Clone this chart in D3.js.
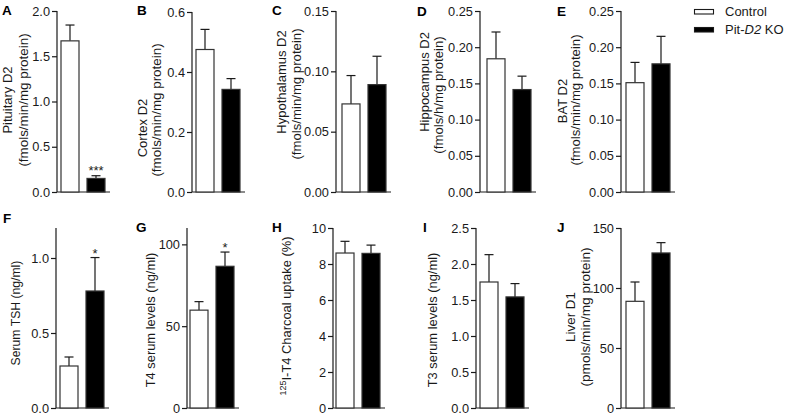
<!DOCTYPE html>
<html>
<head>
<meta charset="utf-8">
<script src="https://cdn.jsdelivr.net/npm/d3@7"></script>
<style>
  html, body { margin: 0; padding: 0; background: #fff; }
  svg { display: block; font-family: "Liberation Sans", Arial, sans-serif; }
</style>
</head>
<body>
<svg id="chart" width="791" height="417"></svg>
<script>
// ---------- data ----------
const panelLetters = ["A", "B", "C", "D", "E", "F", "G", "H", "I", "J"];
const groups = ["Control", "Pit-D2 KO"];
const controlMean = [1.67, 0.475, 0.073, 0.184, 0.151, 0.28, 59.8, 8.61, 1.75, 88.9];
const controlErr  = [0.175, 0.067, 0.0235, 0.037, 0.028, 0.06, 5.2, 0.65, 0.38, 16.1];
const koMean      = [0.15, 0.342, 0.089, 0.1415, 0.177, 0.78, 86.6, 8.59, 1.543, 129.2];
const koErr       = [0.03, 0.036, 0.0235, 0.0185, 0.038, 0.223, 8.7, 0.46, 0.185, 8.6];
const yMax        = [2.0, 0.6, 0.15, 0.25, 0.25, 1.2, 110, 10, 2.5, 150];
const yTicks = [
  [0, 0.5, 1.0, 1.5, 2.0],
  [0, 0.2, 0.4, 0.6],
  [0, 0.05, 0.10, 0.15],
  [0, 0.05, 0.10, 0.15, 0.20, 0.25],
  [0, 0.05, 0.10, 0.15, 0.20, 0.25],
  [0, 0.5, 1.0],
  [0, 50, 100],
  [0, 2, 4, 6, 8, 10],
  [0, 0.5, 1.0, 1.5, 2.0, 2.5],
  [0, 50, 100, 150]
];
const tickFormats = [".1f", ".1f", ".2f", ".2f", ".2f", ".1f", "d", "d", ".1f", "d"];
const significance = ["***", "", "", "", "", "*", "*", "", "", ""];
const titleLine1 = ["Pituitary D2", "Cortex D2", "Hypothalamus D2", "Hippocampus D2", "BAT D2",
  "Serum TSH (ng/ml)", "T4 serum levels (ng/ml)", "I-T4 Charcoal uptake (%)", "T3 serum levels (ng/ml)", "Liver D1"];
const titleLine2 = ["(fmols/min/mg protein)", "(fmols/min/mg protein)", "(fmols/min/mg protein)",
  "(fmols/h/mg protein)", "(fmols/min/mg protein)", "", "", "", "", "(pmols/min/mg protein)"];
const titleSuper = ["", "", "", "", "", "", "", "125", "", ""];

// ---------- layout (positions / styles) ----------
const layout = [
  {ax: 57,  off: 4, top: 11,  bot: 192, lbl: [2, 15],    t1: [12, 100, 13],  t2: [28, 100, 13.4]},
  {ax: 192, off: 4, top: 12,  bot: 192, lbl: [137, 15],  t1: [147, 128, 13], t2: [161, 110, 13.4]},
  {ax: 336, off: 6, top: 11,  bot: 192, lbl: [272, 15],  t1: [286, 82, 13],  t2: [301, 94, 13.2]},
  {ax: 480, off: 7, top: 11,  bot: 192, lbl: [417, 16],  t1: [429, 82, 13],  t2: [443, 95, 13.2]},
  {ax: 621, off: 5, top: 11,  bot: 192, lbl: [557, 16],  t1: [567, 101, 13], t2: [580, 100, 13.2]},
  {ax: 56,  off: 4, top: 228, bot: 408, lbl: [3, 223],   t1: [20, 313, 12.2]},
  {ax: 187, off: 3, top: 228, bot: 408, lbl: [136, 232], t1: [155, 320, 12.9]},
  {ax: 333, off: 3, top: 228, bot: 408, lbl: [272, 232], t1: [291, 316, 12.9]},
  {ax: 476, off: 4, top: 228, bot: 408, lbl: [423, 232], t1: [437, 320, 12.9]},
  {ax: 621, off: 5, top: 228, bot: 408, lbl: [557, 232], t1: [575, 317, 13.4], t2: [590, 317, 13.6]}
];
const ink = "#1a1a1a";
const barW = 18, barStep = 26;

const svg = d3.select("#chart");

panelLetters.forEach((letter, i) => {
  const L = layout[i];
  const g = svg.append("g");

  const y = d3.scaleLinear().domain([0, yMax[i]]).range([L.bot, L.top]);
  const x = d3.scaleBand().domain(groups)
    .range([L.ax + L.off, L.ax + L.off + barStep + barW])
    .paddingInner((barStep - barW) / barStep).paddingOuter(0);

  // y axis
  const yAxis = d3.axisLeft(y).tickValues(yTicks[i]).tickFormat(d3.format(tickFormats[i]))
    .tickSize(5).tickPadding(2).tickSizeOuter(0);
  const ag = g.append("g").attr("transform", `translate(${L.ax},0)`).call(yAxis);
  ag.select(".domain").attr("stroke", ink).attr("stroke-width", 1.2)
    .attr("d", `M0,${y(yMax[i])}V${y(0)}`);
  ag.selectAll(".tick line").attr("stroke", ink).attr("stroke-width", 1.2);
  ag.selectAll(".tick text").attr("fill", ink).style("font-size", "12.8px")
    .style("font-family", "'Liberation Sans', Arial, sans-serif");

  // baseline
  g.append("line").attr("x1", L.ax).attr("x2", L.ax + L.off + barStep + barW + 5)
    .attr("y1", y(0)).attr("y2", y(0)).attr("stroke", ink).attr("stroke-width", 1.2);

  const rows = [
    {grp: groups[0], m: controlMean[i], e: controlErr[i], fill: "#fff"},
    {grp: groups[1], m: koMean[i], e: koErr[i], fill: "#000"}
  ];

  // error bars (upward only)
  rows.forEach(r => {
    const cx = x(r.grp) + x.bandwidth() / 2;
    g.append("line").attr("x1", cx).attr("x2", cx)
      .attr("y1", y(r.m)).attr("y2", y(r.m + r.e)).attr("stroke", ink).attr("stroke-width", 1.2);
    g.append("line").attr("x1", cx - 4.5).attr("x2", cx + 4.5)
      .attr("y1", y(r.m + r.e)).attr("y2", y(r.m + r.e)).attr("stroke", ink).attr("stroke-width", 1.2);
  });

  // bars
  g.selectAll("rect.bar").data(rows).join("rect").attr("class", "bar")
    .attr("x", d => x(d.grp)).attr("width", x.bandwidth())
    .attr("y", d => y(d.m)).attr("height", d => y(0) - y(d.m))
    .attr("fill", d => d.fill).attr("stroke", "#333").attr("stroke-width", 1.2);

  // significance
  if (significance[i]) {
    g.append("text").attr("x", x(groups[1]) + x.bandwidth() / 2)
      .attr("y", y(koMean[i] + koErr[i]) + (i === 0 ? -1 : 0))
      .attr("text-anchor", "middle").style("font-size", "13px").attr("fill", ink)
      .text(significance[i]);
  }

  // panel letter
  g.append("text").attr("x", L.lbl[0]).attr("y", L.lbl[1])
    .style("font-size", "13.5px").style("font-weight", "bold").attr("fill", "#000").text(letter);

  // y titles
  const t1 = g.append("text")
    .attr("transform", `translate(${L.t1[0]},${L.t1[1]}) rotate(-90)`)
    .attr("text-anchor", "middle").style("font-size", L.t1[2] + "px").attr("fill", ink);
  if (titleSuper[i]) {
    t1.append("tspan").style("font-size", "9px").attr("dy", "-5").text(titleSuper[i]);
    t1.append("tspan").attr("dy", "5").text(titleLine1[i]);
  } else {
    t1.text(titleLine1[i]);
  }
  if (titleLine2[i] && L.t2) {
    g.append("text")
      .attr("transform", `translate(${L.t2[0]},${L.t2[1]}) rotate(-90)`)
      .attr("text-anchor", "middle").style("font-size", L.t2[2] + "px").attr("fill", ink)
      .text(titleLine2[i]);
  }
});

// legend
const legend = svg.append("g");
const legendFill = ["#fff", "#000"];
groups.forEach((grp, k) => {
  const ly = [9.5, 27.5][k];
  legend.append("rect").attr("x", 694.5).attr("y", ly).attr("width", 19).attr("height", 4.5)
    .attr("fill", legendFill[k]).attr("stroke", ink).attr("stroke-width", 1.1);
  const t = legend.append("text").attr("x", 725).attr("y", [15.5, 34][k])
    .style("font-size", "13px").attr("fill", ink);
  if (k === 0) {
    t.text(grp);
  } else {
    t.append("tspan").text("Pit-");
    t.append("tspan").style("font-style", "italic").text("D2");
    t.append("tspan").text(" KO");
  }
});
</script>
</body>
</html>
